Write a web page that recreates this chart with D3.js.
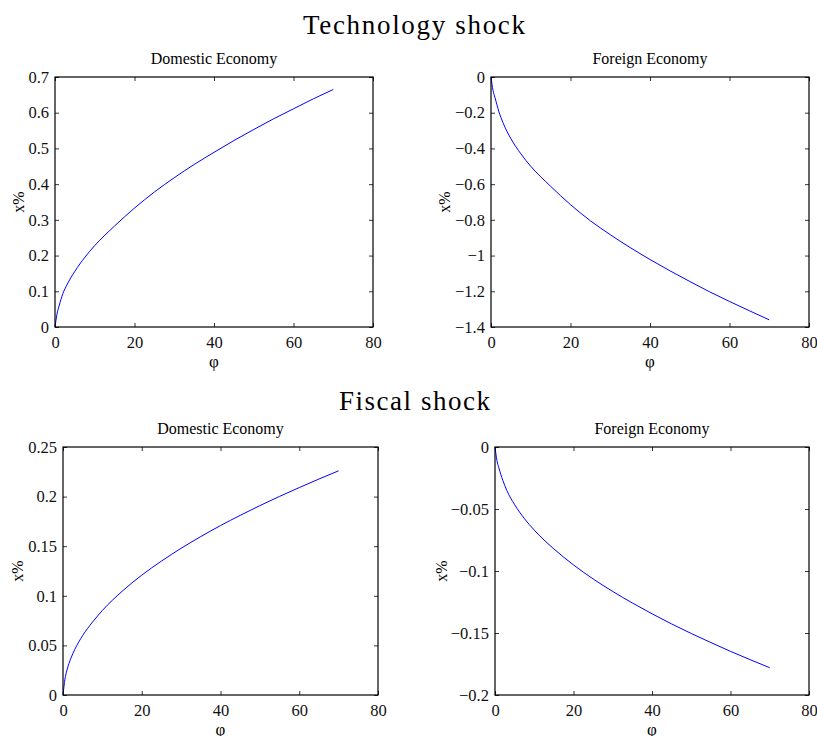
<!DOCTYPE html>
<html>
<head>
<meta charset="utf-8">
<script src="https://d3js.org/d3.v7.min.js"></script>
<style>
    body { margin: 0; background: #fff; }
    svg { display: block; font-family: "Liberation Serif", "Times New Roman", serif; }
</style>
</head>
<body>
<svg id="drawing_region"></svg>
<script>
// phi grid used for all four panels
const phi = [0, 0.5, 1, 2, 3, 5, 7.5, 10, 15, 20, 25, 30, 35, 40, 45, 50, 55, 60, 65, 70];

// x% response
const techDomestic   = [0, 0.036, 0.058, 0.094, 0.118, 0.156, 0.195, 0.228, 0.283, 0.333, 0.378, 0.418, 0.455, 0.489, 0.522, 0.553, 0.583, 0.611, 0.639, 0.665];
const techForeign    = [0, -0.075, -0.115, -0.195, -0.255, -0.345, -0.43, -0.50, -0.612, -0.715, -0.805, -0.883, -0.955, -1.022, -1.085, -1.145, -1.203, -1.257, -1.309, -1.360];
const fiscalDomestic = [0, 0.016, 0.025, 0.037, 0.046, 0.060, 0.0735, 0.0852, 0.1045, 0.1208, 0.135, 0.1479, 0.1597, 0.1708, 0.1811, 0.1909, 0.2002, 0.2091, 0.2177, 0.226];
const fiscalForeign  = [0, -0.011, -0.017, -0.027, -0.035, -0.0465, -0.0578, -0.0670, -0.0822, -0.0951, -0.1064, -0.1165, -0.1258, -0.1345, -0.1427, -0.1504, -0.1577, -0.1648, -0.1715, -0.178];

// tick values
const xTicks = [0, 20, 40, 60, 80];
const techDomesticTicks   = [0, 0.1, 0.2, 0.3, 0.4, 0.5, 0.6, 0.7];
const techForeignTicks    = [-1.4, -1.2, -1, -0.8, -0.6, -0.4, -0.2, 0];
const fiscalDomesticTicks = [0, 0.05, 0.1, 0.15, 0.2, 0.25];
const fiscalForeignTicks  = [-0.2, -0.15, -0.1, -0.05, 0];

// titles
const shockTitles = ["Technology shock", "Fiscal shock"];
const panelTitles = ["Domestic Economy", "Foreign Economy"];
const xLabel = "\u03c6";
const yLabel = "x%";

const svg = d3.select('#drawing_region')
    .attr('width', 817)
    .attr('height', 736);

svg.append('text')
    .attr('x', 414)
    .attr('y', 34)
    .attr('text-anchor', 'middle')
    .attr('textLength', 222)
    .style('font-size', '27px')
    .text(shockTitles[0]);

svg.append('text')
    .attr('x', 414.5)
    .attr('y', 410)
    .attr('text-anchor', 'middle')
    .attr('textLength', 151)
    .style('font-size', '27px')
    .text(shockTitles[1]);

class LinePlot {

    constructor( config, data ) {
        this.config = config;
        this.data = data;
        this.init();
    }

    init() {
        let self = this;

        self.chart = svg.append('g')
            .attr('transform', `translate(${self.config.left}, ${self.config.top})`);

        self.xscale = d3.scaleLinear()
            .domain( [0, 80] )
            .range( [0, self.config.width] );

        self.yscale = d3.scaleLinear()
            .domain( d3.extent(self.config.yticks) )
            .range( [self.config.height, 0] );

        self.chart.append('text')
            .attr('x', self.config.width / 2)
            .attr('y', -13)
            .attr('text-anchor', 'middle')
            .style('font-size', '16px')
            .text(self.config.title);

        self.chart.append('text')
            .attr('x', self.config.width / 2)
            .attr('y', self.config.height + 40)
            .attr('text-anchor', 'middle')
            .style('font-size', '17px')
            .text(xLabel);

        self.chart.append('text')
            .attr('transform', 'rotate(-90)')
            .attr('x', -self.config.height / 2)
            .attr('y', -self.config.ylabel_offset)
            .attr('dy', '0.35em')
            .attr('text-anchor', 'middle')
            .style('font-size', '16px')
            .text(yLabel);
    }

    render() {
        let self = this;
        const fmt = d3.format('~g');

        const xaxis = d3.axisBottom( self.xscale )
            .tickValues(xTicks).tickFormat(fmt)
            .tickSizeInner(-4).tickSizeOuter(0).tickPadding(9);
        const yaxis = d3.axisLeft( self.yscale )
            .tickValues(self.config.yticks).tickFormat(fmt)
            .tickSizeInner(-4).tickSizeOuter(0).tickPadding(6);
        const xaxis_top = d3.axisTop( self.xscale )
            .tickValues(xTicks).tickFormat('')
            .tickSizeInner(-4).tickSizeOuter(0);
        const yaxis_right = d3.axisRight( self.yscale )
            .tickValues(self.config.yticks).tickFormat('')
            .tickSizeInner(-4).tickSizeOuter(0);

        const groups = [
            self.chart.append('g').attr('transform', `translate(0, ${self.config.height})`).call(xaxis),
            self.chart.append('g').call(yaxis),
            self.chart.append('g').call(xaxis_top),
            self.chart.append('g').attr('transform', `translate(${self.config.width}, 0)`).call(yaxis_right)
        ];
        groups.forEach( g => {
            g.select('.domain').remove();
            g.selectAll('line').attr('stroke', '#000').attr('stroke-width', 0.8);
            g.selectAll('text')
                .attr('fill', '#111')
                .style('font-family', '"Liberation Serif", serif')
                .style('font-size', '16.5px');
        });

        const line = d3.line()
            .x( (d, i) => self.xscale( phi[i] ) )
            .y( d => self.yscale( d ) )
            .curve( d3.curveMonotoneX );

        self.chart.append('path')
            .datum(self.data)
            .attr('d', line)
            .attr('fill', 'none')
            .attr('stroke', '#0000ff')
            .attr('stroke-width', 1);

        self.chart.append('rect')
            .attr('x', 0)
            .attr('y', 0)
            .attr('width', self.config.width)
            .attr('height', self.config.height)
            .attr('fill', 'none')
            .attr('stroke', '#000')
            .attr('stroke-width', 1.2);
    }
}

const panels = [
    { config: { left: 55,  top: 77,  width: 318, height: 250, yticks: techDomesticTicks,   title: panelTitles[0], ylabel_offset: 37 }, data: techDomestic },
    { config: { left: 491, top: 77,  width: 318, height: 250, yticks: techForeignTicks,    title: panelTitles[1], ylabel_offset: 47 }, data: techForeign },
    { config: { left: 63,  top: 447, width: 315, height: 248, yticks: fiscalDomesticTicks, title: panelTitles[0], ylabel_offset: 46 }, data: fiscalDomestic },
    { config: { left: 495, top: 447, width: 314, height: 248, yticks: fiscalForeignTicks,  title: panelTitles[1], ylabel_offset: 54 }, data: fiscalForeign }
];

panels.forEach( p => {
    let plot = new LinePlot( p.config, p.data );
    plot.render();
});
</script>
</body>
</html>
